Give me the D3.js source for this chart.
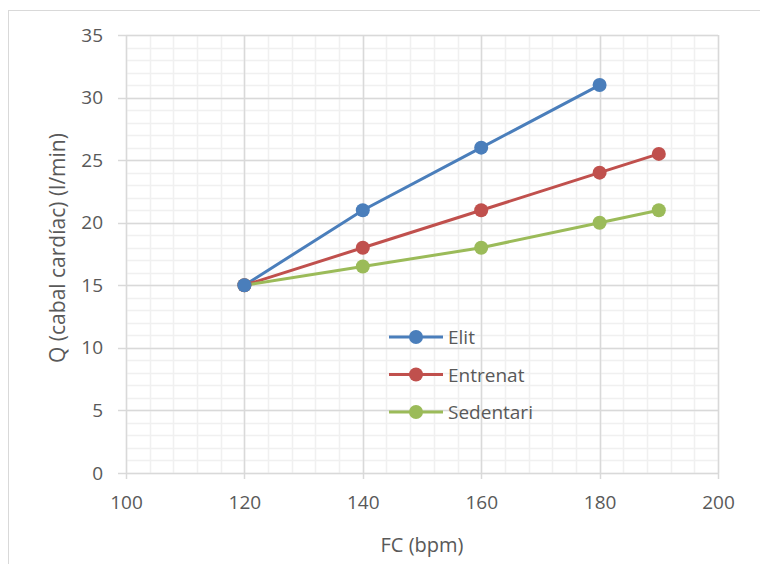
<!DOCTYPE html>
<html>
<head>
<meta charset="utf-8">
<script src="https://cdn.jsdelivr.net/npm/d3@7"></script>
<style>
  body { margin: 0; background: #fff; }
  text { font-family: "Open Sans", "Noto Sans", sans-serif; fill: #595959; }
</style>
</head>
<body>
<div id="container"></div>
<script>
/* CONSTANTS AND GLOBALS */
const width = 760,
  height = 564,
  margin = { top: 35, bottom: 91, left: 126, right: 42 };

/* DATA */
const seriesNames = ["Elit", "Entrenat", "Sedentari"];
const colors = ["#4A7EBB", "#C0504D", "#9BBB59"];
const elitX = [120, 140, 160, 180];
const elitY = [15, 21, 26, 31];
const entrenatX = [120, 140, 160, 180, 190];
const entrenatY = [15, 18, 21, 24, 25.5];
const sedentariX = [120, 140, 160, 180, 190];
const sedentariY = [15, 16.5, 18, 20, 21];
const xTicks = [100, 120, 140, 160, 180, 200];
const yTicks = [0, 5, 10, 15, 20, 25, 30, 35];

const series = [
  { name: seriesNames[0], color: colors[0], pts: elitX.map((x, i) => [x, elitY[i]]) },
  { name: seriesNames[1], color: colors[1], pts: entrenatX.map((x, i) => [x, entrenatY[i]]) },
  { name: seriesNames[2], color: colors[2], pts: sedentariX.map((x, i) => [x, sedentariY[i]]) }
];

/* SCALES */
const xScale = d3.scaleLinear()
  .domain([100, 200])
  .range([margin.left, width - margin.right]);

const yScale = d3.scaleLinear()
  .domain([0, 35])
  .range([height - margin.bottom, margin.top]);

/* HTML ELEMENTS */
const svg = d3.select("#container")
  .append("svg")
  .attr("width", width)
  .attr("height", height);

// chart frame
svg.append("rect")
  .attr("x", 8.5).attr("y", 10.5)
  .attr("width", width).attr("height", height)
  .attr("fill", "none")
  .attr("stroke", "#d9d9d9");

// minor gridlines
const grid = svg.append("g");
grid.selectAll(".vminor")
  .data(d3.range(100, 201, 4))
  .join("line")
  .attr("x1", d => Math.round(xScale(d)) + 0.5)
  .attr("x2", d => Math.round(xScale(d)) + 0.5)
  .attr("y1", yScale(0)).attr("y2", yScale(35))
  .attr("stroke", "#f0f0f0").attr("stroke-width", 1.5);
grid.selectAll(".hminor")
  .data(d3.range(0, 36, 1))
  .join("line")
  .attr("y1", d => Math.round(yScale(d)) + 0.5)
  .attr("y2", d => Math.round(yScale(d)) + 0.5)
  .attr("x1", xScale(100)).attr("x2", xScale(200))
  .attr("stroke", "#f0f0f0").attr("stroke-width", 1.5);

// major gridlines
grid.selectAll(".vmajor")
  .data(xTicks)
  .join("line")
  .attr("x1", d => Math.round(xScale(d)) + 0.5)
  .attr("x2", d => Math.round(xScale(d)) + 0.5)
  .attr("y1", yScale(0) + 6).attr("y2", yScale(35))
  .attr("stroke", "#d9d9d9").attr("stroke-width", 1.5);
grid.selectAll(".hmajor")
  .data(yTicks)
  .join("line")
  .attr("y1", d => Math.round(yScale(d)) + 0.5)
  .attr("y2", d => Math.round(yScale(d)) + 0.5)
  .attr("x1", xScale(100) - 8).attr("x2", xScale(200))
  .attr("stroke", "#d9d9d9").attr("stroke-width", 1.5);

// axis scales (labels only, lines drawn by grid)
const xAxis = d3.axisBottom(xScale).tickValues(xTicks).tickSize(0).tickPadding(23);
svg.append("g")
  .attr("transform", `translate(0,${yScale(0)})`)
  .call(xAxis)
  .call(g => g.select(".domain").remove())
  .selectAll("text")
  .style("font-size", "19px")
  .attr("fill", "#595959");

const yAxis = d3.axisLeft(yScale).tickValues(yTicks).tickSize(0).tickPadding(23);
svg.append("g")
  .attr("transform", `translate(${margin.left},0)`)
  .call(yAxis)
  .call(g => g.select(".domain").remove())
  .selectAll("text")
  .style("font-size", "19px")
  .attr("fill", "#595959");

// axis titles
svg.append("text")
  .attr("x", (xScale(100) + xScale(200)) / 2)
  .attr("y", 552)
  .attr("text-anchor", "middle")
  .style("font-size", "20px")
  .text("FC (bpm)");

svg.append("text")
  .attr("transform", `translate(65,${(yScale(0) + yScale(35)) / 2 - 6}) rotate(-90)`)
  .attr("text-anchor", "middle")
  .style("font-size", "21px")
  .text("Q (cabal cardíac) (l/min)");

// lines
const line = d3.line().x(d => xScale(d[0])).y(d => yScale(d[1]));
series.forEach(s => {
  svg.append("path")
    .datum(s.pts)
    .attr("d", line)
    .attr("fill", "none")
    .attr("stroke", s.color)
    .attr("stroke-width", 3);
});

// circles
series.slice().reverse().forEach(s => {
  svg.selectAll(null)
    .data(s.pts)
    .join("circle")
    .attr("cx", d => xScale(d[0]))
    .attr("cy", d => yScale(d[1]))
    .attr("r", 7)
    .attr("fill", s.color);
});

// legend
const legend = svg.append("g").attr("transform", "translate(389,337)");
series.forEach((s, i) => {
  const row = legend.append("g").attr("transform", `translate(0,${i * 37.5})`);
  row.append("line")
    .attr("x1", 0).attr("x2", 54)
    .attr("stroke", s.color).attr("stroke-width", 3);
  row.append("circle")
    .attr("cx", 27).attr("r", 7).attr("fill", s.color);
  row.append("text")
    .attr("x", 59).attr("y", 7)
    .style("font-size", "19px")
    .text(s.name);
});
</script>
</body>
</html>
